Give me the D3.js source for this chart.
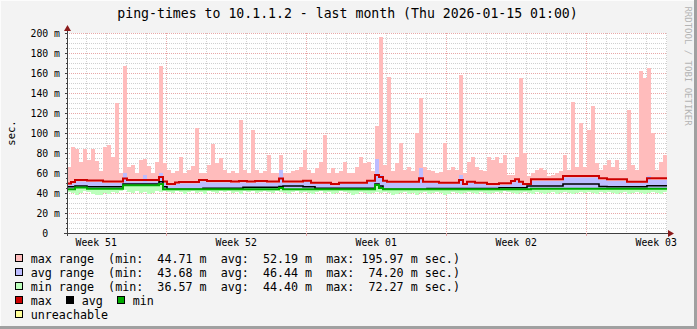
<!DOCTYPE html>
<html><head><meta charset="utf-8">
<script src="https://cdn.jsdelivr.net/npm/d3@7"></script>
<style>
html,body{margin:0;padding:0;background:#f3f3f3;}
svg{display:block;}
text{font-family:"DejaVu Sans Mono",monospace;}
</style></head><body>
<svg id="c" width="697" height="329"></svg>
<script>
// ---------------- data ----------------
const title = "ping-times to 10.1.1.2 - last month (Thu 2026-01-15 01:00)";
const startTime = "2025-12-16T01:00:00Z";
const endTime = "2026-01-15T01:00:00Z";
const stepHours = 4.8;
const yTicks = [0, 20, 40, 60, 80, 100, 120, 140, 160, 180, 200];
const yTickLabels = ["0  ", "20 m", "40 m", "60 m", "80 m", "100 m", "120 m", "140 m", "160 m", "180 m", "200 m"];
const weekLabels = ["Week 51", "Week 52", "Week 01", "Week 02", "Week 03"];
const unitLabel = "sec.";
const watermark = "RRDTOOL / TOBI OETIKER";

// max range: top of pink area (ms)
const maxTop = [
 66,86,84,71,84,73,84,72,62,86,
 88,76,130,60,167,66,68,60,73,74,
 67,60,71,167,70,63,60,62,76,60,
 63,67,105,60,60,68,89,70,75,63,
 60,62,60,113,63,60,103,63,60,62,
 78,60,60,78,60,60,62,63,66,83,
 63,60,65,71,98,60,65,60,62,71,
 60,60,66,76,70,71,62,107,196,68,
 156,62,70,90,63,66,62,100,135,66,
 63,62,60,61,90,63,66,63,158,60,
 71,76,66,63,62,76,73,76,70,78,
 58,58,76,155,80,57,60,63,65,63,
 57,58,60,62,78,63,131,66,110,66,
 103,127,70,63,68,73,66,73,63,63,
 123,68,63,162,155,165,100,63,71,78];
// avg range: top of blue area
const avgTop = [
 48,49.5,51.5,51.5,51.5,51,51,51,51,50,
 50,50,50,50,60,51.5,51.5,51.5,51.5,58,
 51.5,51.5,51.5,60,50,47.5,47.5,49,49.5,49.5,
 49.5,49.5,49.5,51.5,51.5,50.5,50.5,50.5,50.5,50.5,
 50.5,50,50,50.5,50.5,50,50,50.5,50.5,50.5,
 50,50,50,63,50,50,50,50,50,51,
 51,49,49,49,49,49,47.5,47.5,49,49,
 49,49,49,49,49,51,51,74,58,51,
 50,50,50,50,50,50,50,50,65,50,
 50,50,50,49,49,49,49,49,58,47.5,
 50,50,49,49,49,47.5,47.5,47.5,48,48,
 48,50.5,52,50,47.5,47.5,52,52,52,52,
 52,52,52,52,55.5,55.5,55.5,55.5,55.5,55.5,
 55.5,55.5,55.5,53,53,52,52,52,52,52,
 50,50,50,50,50,57,53,53,53,53];
// min range: bottom of green area
const minBottom = [
 41,40,38,40,42,41,39,38,38,40,
 39,41,40,42,43,41,40,42,40,41,
 39,40,42,41,42,41,40,42,41,39,
 41,42,40,41,39,42,41,40,42,41,
 42,40,41,39,42,41,42,40,41,42,
 41,40,42,41,40,39,41,42,40,41,
 40,39,41,42,40,41,39,40,42,41,
 40,38,39,41,40,39,40,41,40,41,
 40,38,39,40,41,39,40,38,40,41,
 39,40,41,40,38,39,41,40,39,40,
 41,40,39,41,40,39,40,41,40,42,
 41,40,39,40,41,40,39,41,40,39,
 40,41,39,40,41,40,39,40,41,40,
 41,40,39,41,40,41,40,39,40,41,
 39,40,41,40,39,40,41,40,39,41];
// lines
const maxLine = [
 49.5,51,53,53,53,52.5,52.5,52.5,52.5,51.5,
 51.5,51.5,51.5,51.5,54.5,53,53,53,53,53,
 53,53,53,56,51.5,49,49,50.5,51,51,
 51,51,51,53,53,52,52,52,52,52,
 52,51.5,51.5,52,52,51.5,51.5,52,52,52,
 51.5,51.5,51.5,54.5,51.5,51.5,51.5,51.5,51.5,52.3,
 52.3,50.3,50.3,50.3,50.3,50.3,49,49,50.3,50.3,
 50.3,50.3,50.3,50.3,50.3,52.3,52.3,58,56,52.3,
 51.3,51.3,51.3,51.3,51.3,51.3,51.3,51.3,54.7,51.3,
 51.3,51.3,51.3,50.3,50.3,50.3,50.3,50.3,53,49,
 51.3,51.3,50.3,50.3,50.3,49,49,49,49.7,49.7,
 49.7,52,53.7,51.3,49,49,53.7,53.7,53.7,53.7,
 53.7,53.7,53.7,53.7,57,57,57,57,57,57,
 57,57,57,54.7,54.7,53.7,53.7,53.7,53.7,53.7,
 51.3,51.3,51.3,51.3,51.3,54.7,54.7,54.7,54.7,54.7];
const avgLine = [
 46.3,46.3,47,47,47,46.3,46.3,46.3,46.3,46.3,
 46.3,46.3,46.3,46.3,49,49,49,49,49,49,
 49,49,49,51.3,46.3,43.7,43.7,43.7,43.7,43.7,
 43.7,43.7,43.7,43.7,44.7,44.7,44.7,44.7,44.7,44.7,
 44.7,44.7,44.7,44.7,45.7,45.7,45.7,45.7,45.7,45.7,
 45.7,45.7,45.7,46.5,47,47,47,47,47,46.3,
 46.3,46.3,44.7,44.7,44.7,44.7,44.7,44.7,44.7,44.7,
 44.7,44.7,44.7,44.7,44.7,44.7,44.7,49,47,43.7,
 43.7,43.7,43.7,43.7,43.7,43.7,43.7,43.7,43.7,43.7,
 44.5,44.5,44.5,44.5,44.5,44.5,44.5,44.5,44.5,44.5,
 44.5,44.5,44.5,44.5,44.5,44.5,44.5,44.5,45.3,45.3,
 45.3,45.3,45.3,45.3,45.3,47,47,47,47,47,
 47,47,47,47,49,49,49,49,49,49,
 49,49,49,46.5,46.5,46.3,46.3,46.3,46.3,46.3,
 46.3,46.3,46.3,46.3,46.3,47.3,47.3,47.3,47.3,47.3];
const minLine = [
 43.7,43.7,45.5,45.5,45.5,44.3,44.3,44.3,44.3,44.3,
 44.3,44.3,44.3,44.3,47.7,47.7,47.7,47.7,47.7,47.7,
 47.7,47.7,47.7,49,43.7,43.7,43.7,43.7,43.7,43.7,
 43.7,43.7,43.7,43.7,43.7,43.7,43.7,43.7,43.7,43.7,
 43.7,43.7,43.7,43.7,43.7,43.7,43.7,43.7,43.7,43.7,
 43.7,43.7,43.7,45,43.7,43.7,43.7,43.7,43.7,43.7,
 43.7,43.7,43.7,43.7,43.7,43.7,43.7,43.7,43.7,43.7,
 43.7,43.7,43.7,43.7,43.7,43.7,43.7,48,45,43.7,
 43.7,43.7,43.7,43.7,43.7,43.7,43.7,43.7,43.7,43.7,
 43.7,43.7,43.7,43.7,43.7,43.7,43.7,43.7,43.7,43.7,
 43.7,43.7,43.7,43.7,43.7,43.7,43.7,43.7,43.7,43.7,
 43.7,43.7,43.7,43.7,43.7,43.7,44.3,44.3,44.3,44.3,
 44.3,44.3,44.3,44.3,44.3,44.3,44.3,44.3,44.3,44.3,
 44.3,44.3,44.3,44.3,44.3,44.3,44.3,44.3,44.3,44.3,
 44.3,44.3,44.3,44.3,44.3,44.3,44.3,44.3,44.3,44.3];

// legend
const rangeNames = ["max range", "avg range", "min range"];
const rangeMin = [44.71, 43.68, 36.57];
const rangeAvg = [52.19, 46.44, 44.40];
const rangeMax = [195.97, 74.20, 72.27];
const lineNames = ["max", "avg", "min"];
const unreachableName = "unreachable";

// ---------------- styles ----------------
const C = {
  bg: "#f3f3f3", canvas: "#ffffff",
  maxArea: "#ffbcbc", avgArea: "#bcbcff", minArea: "#bcffbc",
  maxLine: "#cc0000", avgLine: "#000000", minLine: "#00aa00",
  unreach: "#ffff99",
  grid: "#d0d0d0", mgrid: "#e8a8a8", axis: "#404040", arrow: "#8b1a1a",
  font: "#000000", wm: "#b4b4b4"
};

const svg = d3.select("#c");
const W = 697, H = 329;
const X0 = 67, X1 = 667, YB = 233, YT = 33;

svg.append("rect").attr("width", W).attr("height", H).attr("fill", C.bg);
// 3D frame
svg.append("rect").attr("x", 0).attr("y", H - 3).attr("width", W).attr("height", 3).attr("fill", "#a0a0a0");
svg.append("rect").attr("x", W - 3).attr("y", 0).attr("width", 3).attr("height", H).attr("fill", "#a0a0a0");
svg.append("rect").attr("x", 0).attr("y", 0).attr("width", W - 3).attr("height", 1).attr("fill", "#fcfcfc");
svg.append("rect").attr("x", 0).attr("y", 0).attr("width", 1).attr("height", H - 3).attr("fill", "#fcfcfc");

const t0 = new Date(startTime), t1 = new Date(endTime);
const x = d3.scaleUtc().domain([t0, t1]).range([X0, X1]);
const y = d3.scaleLinear().domain([0, 200]).range([YB, YT]);

svg.append("rect").attr("x", X0).attr("y", YT).attr("width", X1 - X0).attr("height", YB - YT).attr("fill", C.canvas);

// time of each sample
const n = maxTop.length;
const times = d3.range(n + 1).map(i => new Date(+t0 + i * stepHours * 3600e3));
const idx = d3.range(n + 1);
const v = arr => i => arr[Math.min(i, n - 1)];

// grid
const g = svg.append("g").attr("shape-rendering", "crispEdges");
const days = d3.utcDay.range(t0, t1);
const weeks = d3.utcSunday.range(t0, t1);
const weekSet = new Set(weeks.map(d => +d));
days.filter(d => !weekSet.has(+d)).forEach(d => {
  const px = Math.round(x(d)) + 0.5;
  g.append("line").attr("x1", px).attr("x2", px).attr("y1", YT).attr("y2", YB)
    .attr("stroke", C.grid).attr("stroke-dasharray", "1,1");
});
const minorY = d3.range(0, 201, 5).filter(d => d % 20 !== 0);
minorY.forEach(d => {
  const py = Math.round(y(d)) + 0.5;
  g.append("line").attr("x1", X0).attr("x2", X1).attr("y1", py).attr("y2", py)
    .attr("stroke", C.grid).attr("stroke-dasharray", "1,1");
});
weeks.forEach(d => {
  const px = Math.round(x(d)) + 0.5;
  g.append("line").attr("x1", px).attr("x2", px).attr("y1", YT).attr("y2", YB)
    .attr("stroke", C.mgrid).attr("stroke-dasharray", "1,1");
});
yTicks.forEach(d => {
  const py = Math.round(y(d)) + 0.5;
  g.append("line").attr("x1", X0).attr("x2", X1).attr("y1", py).attr("y2", py)
    .attr("stroke", C.mgrid).attr("stroke-dasharray", "1,1");
});

// areas
const area = (lo, hi) => d3.area().curve(d3.curveStepAfter)
  .x(i => x(times[i])).y0(i => y(v(lo)(i))).y1(i => y(v(hi)(i)));
svg.append("path").datum(idx).attr("d", area(minLine, maxTop)).attr("fill", C.maxArea);
svg.append("path").datum(idx).attr("d", area(minLine, avgTop)).attr("fill", C.avgArea);
svg.append("path").datum(idx).attr("d", area(minBottom, minLine)).attr("fill", C.minArea);

const line = arr => d3.line().curve(d3.curveStepAfter).x(i => x(times[i])).y(i => y(v(arr)(i)));
svg.append("path").datum(idx).attr("d", line(maxLine)).attr("fill", "none").attr("stroke", C.maxLine).attr("stroke-width", 2);
svg.append("path").datum(idx).attr("d", line(avgLine)).attr("fill", "none").attr("stroke", C.avgLine).attr("stroke-width", 1.6);
svg.append("path").datum(idx).attr("d", line(minLine)).attr("fill", "none").attr("stroke", C.minLine).attr("stroke-width", 2);

// axes
const ax = svg.append("g").attr("shape-rendering", "crispEdges");
ax.append("line").attr("x1", X0 - 3).attr("x2", X1 + 2).attr("y1", YB + 0.5).attr("y2", YB + 0.5).attr("stroke", C.axis);
ax.append("line").attr("x1", X0 + 0.5).attr("x2", X0 + 0.5).attr("y1", YB + 3).attr("y2", YT - 3).attr("stroke", C.axis);
yTicks.forEach(d => {
  const py = Math.round(y(d)) + 0.5;
  ax.append("line").attr("x1", X0 - 2).attr("x2", X0).attr("y1", py).attr("y2", py).attr("stroke", C.axis);
});
minorY.forEach(d => {
  const py = Math.round(y(d)) + 0.5;
  ax.append("line").attr("x1", X0 - 1).attr("x2", X0).attr("y1", py).attr("y2", py).attr("stroke", C.axis);
});
weeks.forEach(d => {
  const px = Math.round(x(d)) + 0.5;
  ax.append("line").attr("x1", px).attr("x2", px).attr("y1", YB).attr("y2", YB + 3).attr("stroke", C.mgrid);
});
// arrows
svg.append("path").attr("d", `M${X0 - 3},${YT - 2} L${X0 + 4},${YT - 2} L${X0 + 0.5},${YT - 8} Z`).attr("fill", C.arrow);
svg.append("path").attr("d", `M${X1 + 1},${YB - 3} L${X1 + 1},${YB + 4} L${X1 + 7},${YB + 0.5} Z`).attr("fill", C.arrow);

// y labels
yTicks.forEach((d, i) => {
  svg.append("text").attr("x", 60).attr("y", y(d) + 3.5).attr("text-anchor", "end")
    .attr("xml:space", "preserve").style("white-space", "pre")
    .attr("font-size", "9.8px").attr("fill", C.font).text(yTickLabels[i]);
});
// x labels: mid-week (Wednesday noon)
weekLabels.forEach((lab, i) => {
  const mid = new Date(+weeks[0] - 7 * 864e5 + (i * 7 + 3.5) * 864e5);
  svg.append("text").attr("x", x(mid)).attr("y", 246).attr("text-anchor", "middle")
    .attr("font-size", "9.8px").attr("fill", C.font).text(lab);
});
// unit label
svg.append("text").attr("transform", "translate(15,133) rotate(-90)").attr("text-anchor", "middle")
  .attr("font-size", "10.5px").attr("fill", C.font).text(unitLabel);
// title
svg.append("text").attr("x", 347.5).attr("y", 18).attr("text-anchor", "middle")
  .attr("font-size", "13.2px").attr("fill", C.font).text(title);
// watermark
svg.append("text").attr("transform", "translate(685,66) rotate(90)").attr("text-anchor", "middle")
  .attr("font-size", "9px").attr("fill", C.wm).text(watermark);

// legend
const LF = "11.7px";
const fmt = (val, w) => val.toFixed(2).padStart(w, " ");
const rangeColors = [C.maxArea, C.avgArea, C.minArea];
const SQ = 7;
rangeNames.forEach((nm, i) => {
  const by = 262.5 + i * 14;
  svg.append("rect").attr("x", 15.5).attr("y", by - 8.5).attr("width", SQ).attr("height", SQ)
    .attr("fill", rangeColors[i]).attr("stroke", "#000").attr("stroke-width", 1).attr("shape-rendering", "crispEdges");
  const s = `${nm}  (min:  ${fmt(rangeMin[i], 5)} m  avg:  ${fmt(rangeAvg[i], 5)} m  max: ${fmt(rangeMax[i], 6)} m sec.)`;
  svg.append("text").attr("x", 30.7).attr("y", by).attr("xml:space", "preserve").style("white-space", "pre")
    .attr("font-size", LF).attr("fill", C.font).text(s);
});
const lineColors = [C.maxLine, C.avgLine, C.minLine];
lineNames.forEach((nm, i) => {
  const by = 262.5 + 3 * 14;
  const tx = 30.7 + i * 51;
  svg.append("rect").attr("x", tx - 15.2).attr("y", by - 8.5).attr("width", SQ).attr("height", SQ)
    .attr("fill", lineColors[i]).attr("stroke", "#000").attr("stroke-width", 1).attr("shape-rendering", "crispEdges");
  svg.append("text").attr("x", tx).attr("y", by).attr("font-size", LF).attr("fill", C.font).text(nm);
});
{
  const by = 262.5 + 4 * 14;
  svg.append("rect").attr("x", 15.5).attr("y", by - 8.5).attr("width", SQ).attr("height", SQ)
    .attr("fill", C.unreach).attr("stroke", "#000").attr("stroke-width", 1).attr("shape-rendering", "crispEdges");
  svg.append("text").attr("x", 30.7).attr("y", by).attr("font-size", LF).attr("fill", C.font).text(unreachableName);
}
</script>
</body></html>
